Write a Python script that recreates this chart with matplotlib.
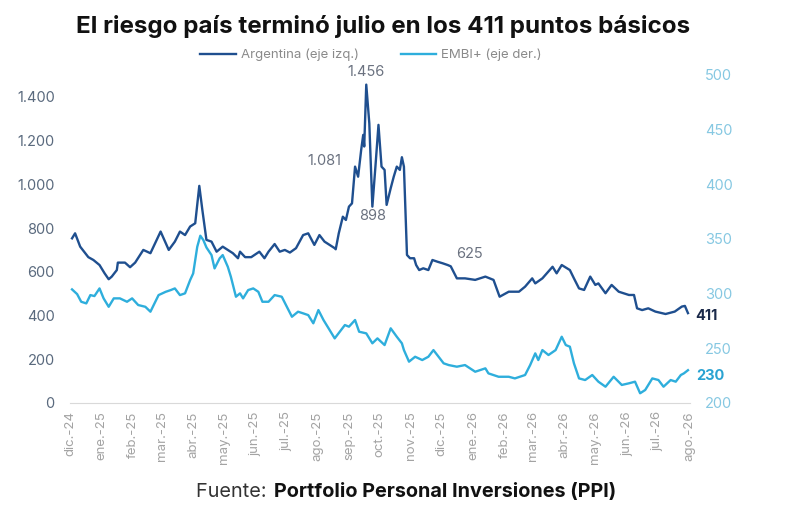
import matplotlib
matplotlib.use("Agg")
import matplotlib.pyplot as plt
import matplotlib.dates as mdates
import pandas as pd

plt.rcParams['font.family'] = ['Inter', 'DejaVu Sans']

# ---------------- data ----------------
arg_dates = ["2024-12-03","2024-12-06","2024-12-11","2024-12-19","2024-12-24","2024-12-30",
 "2025-01-04","2025-01-08","2025-01-11","2025-01-16","2025-01-17","2025-01-24","2025-01-29",
 "2025-02-03","2025-02-11","2025-02-18","2025-02-28","2025-03-08","2025-03-14","2025-03-19",
 "2025-03-24","2025-03-29","2025-04-03","2025-04-07","2025-04-10","2025-04-14","2025-04-19",
 "2025-04-24","2025-04-30","2025-05-05","2025-05-10","2025-05-15","2025-05-17","2025-05-22",
 "2025-05-28","2025-06-05","2025-06-10","2025-06-14","2025-06-20","2025-06-25","2025-06-30",
 "2025-07-05","2025-07-11","2025-07-18","2025-07-23","2025-07-29","2025-08-03","2025-08-08",
 "2025-08-18","2025-08-19","2025-08-22","2025-08-26","2025-08-29","2025-09-01","2025-09-04",
 "2025-09-07","2025-09-10","2025-09-13","2025-09-15","2025-09-16","2025-09-18","2025-09-21",
 "2025-09-24","2025-09-27","2025-09-30","2025-10-03","2025-10-06","2025-10-08","2025-10-12",
 "2025-10-15","2025-10-18","2025-10-21","2025-10-23","2025-10-25","2025-10-28","2025-10-31",
 "2025-11-04","2025-11-06","2025-11-09","2025-11-13","2025-11-18","2025-11-22","2025-11-27",
 "2025-12-02","2025-12-07","2025-12-10","2025-12-16","2025-12-24","2026-01-03","2026-01-13",
 "2026-01-21","2026-01-27","2026-02-05","2026-02-15","2026-02-21","2026-02-28","2026-03-03",
 "2026-03-10","2026-03-20","2026-03-24","2026-03-29","2026-04-06","2026-04-10","2026-04-15",
 "2026-04-20","2026-04-26","2026-05-01","2026-05-04","2026-05-11","2026-05-17","2026-05-24",
 "2026-06-03","2026-06-08","2026-06-11","2026-06-16","2026-06-22","2026-06-29","2026-07-09",
 "2026-07-18","2026-07-25","2026-07-28","2026-07-31"]
arg_values = [753,776,715,667,654,631,
 593,566,578,608,642,642,621,
 642,700,685,784,700,738,784,
 768,807,822,993,883,746,738,
 692,715,700,685,662,692,667,
 667,692,662,692,727,692,700,
 688,708,768,776,723,768,738,
 708,703,776,852,837,898,913,
 1081,1035,1157,1226,1173,1456,1279,
 898,1081,1272,1081,1066,906,982,
 1035,1081,1066,1124,1081,677,662,
 662,631,608,616,608,654,646,
 639,631,625,570,570,563,578,
 563,486,509,509,532,570,547,
 570,623,593,631,608,570,524,
 517,578,540,547,502,540,509,
 494,494,433,425,433,418,407,
 418,441,444,411]

embi_dates = ["2024-12-03","2024-12-08","2024-12-12","2024-12-17","2024-12-21","2024-12-25",
 "2024-12-30","2025-01-03","2025-01-08","2025-01-13","2025-01-19","2025-01-26","2025-01-31",
 "2025-02-06","2025-02-13","2025-02-18","2025-02-26","2025-03-05","2025-03-10","2025-03-14",
 "2025-03-19","2025-03-24","2025-03-29","2025-04-01","2025-04-05","2025-04-08","2025-04-11",
 "2025-04-14","2025-04-19","2025-04-22","2025-04-27","2025-04-30","2025-05-05","2025-05-08",
 "2025-05-13","2025-05-17","2025-05-20","2025-05-25","2025-05-30","2025-06-04","2025-06-08",
 "2025-06-14","2025-06-20","2025-06-27","2025-07-02","2025-07-07","2025-07-13","2025-07-18",
 "2025-07-23","2025-07-28","2025-08-02","2025-08-07","2025-08-12","2025-08-18","2025-08-23",
 "2025-08-28","2025-09-01","2025-09-07","2025-09-11","2025-09-18","2025-09-24","2025-09-29",
 "2025-10-06","2025-10-12","2025-10-18","2025-10-23","2025-10-25","2025-10-30","2025-11-05",
 "2025-11-12","2025-11-18","2025-11-23","2025-12-03","2025-12-08","2025-12-16","2025-12-24",
 "2026-01-03","2026-01-13","2026-01-16","2026-01-26","2026-02-05","2026-02-11","2026-02-21",
 "2026-02-26","2026-03-03","2026-03-06","2026-03-10","2026-03-16","2026-03-23","2026-03-29",
 "2026-04-02","2026-04-06","2026-04-10","2026-04-15","2026-04-21","2026-04-28","2026-05-04",
 "2026-05-11","2026-05-19","2026-05-27","2026-06-03","2026-06-09","2026-06-14","2026-06-19",
 "2026-06-26","2026-07-02","2026-07-07","2026-07-14","2026-07-19","2026-07-24","2026-07-27",
 "2026-07-31"]
embi_values = [303.9,299.6,292.6,291.1,298.7,297.8,
 304.8,295.7,288.0,295.7,295.7,292.6,295.7,
 289.6,288.0,283.5,298.7,301.7,303.3,304.8,
 298.7,300.3,312.4,318.5,342.9,353.0,349.0,
 342.3,335.3,323.1,332.3,335.3,324.6,315.5,
 297.2,300.3,295.7,303.3,304.8,301.7,292.6,
 292.6,298.7,297.2,288.0,278.9,283.5,282.0,
 280.4,272.9,285.0,275.9,268.3,259.1,265.2,
 271.3,269.8,275.9,265.2,263.7,254.6,259.1,
 253.0,268.3,260.6,254.6,248.4,237.8,242.3,
 239.3,242.3,248.4,236.3,234.7,233.2,234.7,
 228.6,231.7,227.1,224.0,224.0,222.5,225.6,
 234.7,245.4,239.3,248.4,243.9,248.4,260.6,
 253.0,251.5,236.3,222.5,221.0,225.6,219.5,
 214.9,224.0,216.5,218.0,219.5,208.9,211.9,
 222.5,221.0,214.9,221.0,219.5,225.6,227.1,
 230.0]

left_ticks = [0, 200, 400, 600, 800, 1000, 1200, 1400]
left_labels = ["0", "200", "400", "600", "800", "1.000", "1.200", "1.400"]
right_ticks = [200, 250, 300, 350, 400, 450, 500]
month_labels = ["dic.-24","ene.-25","feb.-25","mar.-25","abr.-25","may.-25","jun.-25",
 "jul.-25","ago.-25","sep.-25","oct.-25","nov.-25","dic.-25","ene.-26","feb.-26",
 "mar.-26","abr.-26","may.-26","jun.-26","jul.-26","ago.-26"]

# annotations (date, value, text)
annots = [("2025-09-18", 1456, "1.456"), ("2025-09-07", 1081, "1.081"),
          ("2025-09-24", 898, "898"), ("2025-12-10", 625, "625")]

# ---------------- plot ----------------
C_ARG = "#1f4f8f"
C_EMBI = "#2eaedc"
arg_d = pd.to_datetime(arg_dates)
embi_d = pd.to_datetime(embi_dates)

fig = plt.figure(figsize=(8, 5.27), dpi=100)
ax = fig.add_axes([70/800, 1-403/527, 620/800, 328/527])
ax2 = ax.twinx()

la, = ax.plot(arg_d, arg_values, color=C_ARG, lw=1.7, label="Argentina (eje izq.)", zorder=3)
le, = ax2.plot(embi_d, embi_values, color=C_EMBI, lw=1.7, label="EMBI+ (eje der.)", zorder=2)

ax.set_ylim(0, 1500)
ax2.set_ylim(200, 500)
months = pd.date_range("2024-12-01", "2026-08-01", freq="MS")
ax.set_xlim(months[0], months[-1] + pd.Timedelta(days=1))
ax.set_xticks(months)
ax.set_xticklabels(month_labels, rotation=90, color="#a3a3a3", fontsize=9.5)
ax.set_yticks(left_ticks)
ax.set_yticklabels(left_labels, color="#5a6a7e", fontsize=10.5)
ax2.set_yticks(right_ticks)
ax2.set_yticklabels([str(t) for t in right_ticks], color="#86c8e2", fontsize=10.5)

for a in (ax, ax2):
    for s in a.spines.values():
        s.set_visible(False)
    a.tick_params(length=0)
ax.spines['bottom'].set_visible(True)
ax.spines['bottom'].set_color("#d9d9d9")
ax.tick_params(axis='x', pad=6)
ax.tick_params(axis='y', pad=11)
ax2.tick_params(axis='y', pad=11)

for d, v, t in annots:
    dd = pd.Timestamp(d)
    if t == "1.456":
        ax.annotate(t, (dd, v), xytext=(0, 4), textcoords="offset points", ha="center", va="bottom", color="#6b7280", fontsize=10.5)
    elif t == "1.081":
        ax.annotate(t, (dd, v), xytext=(-10, 4), textcoords="offset points", ha="right", va="center", color="#6b7280", fontsize=10.5)
    elif t == "898":
        ax.annotate(t, (dd, v), xytext=(0, -2), textcoords="offset points", ha="center", va="top", color="#6b7280", fontsize=10.5)
    else:
        ax.annotate(t, (dd, v), xytext=(4, 4), textcoords="offset points", ha="left", va="bottom", color="#6b7280", fontsize=10.5)

ax.annotate(f"{arg_values[-1]}", (arg_d[-1], arg_values[-1]), xytext=(5, -2), textcoords="offset points",
            ha="left", va="center", color="#1b2a4a", fontsize=10.5, fontweight="bold")
ax2.annotate(f"{embi_values[-1]:.0f}", (embi_d[-1], embi_values[-1]), xytext=(6, -4), textcoords="offset points",
             ha="left", va="center", color="#2aa3d2", fontsize=10.5, fontweight="bold")

fig.legend(handles=[la, le], loc="center", bbox_to_anchor=(371/800, 1-55/527), ncol=2, frameon=False,
           fontsize=9.5, labelcolor="#8a8a8a", handlelength=2.7, columnspacing=3.2, handletextpad=0.35)

fig.text(383/800, 1-27/527, "El riesgo país terminó julio en los 411 puntos básicos",
         ha="center", va="center", fontsize=17.4, fontweight="bold", color="#111111")
fig.text(272/800, 1-492/527, "Fuente: ", ha="right", va="center", fontsize=14.3, color="#333333")
fig.text(274/800, 1-492/527, "Portfolio Personal Inversiones (PPI)", ha="left", va="center",
         fontsize=14.3, fontweight="bold", color="#111111")

fig.savefig("out.png", dpi=100, facecolor="white")
